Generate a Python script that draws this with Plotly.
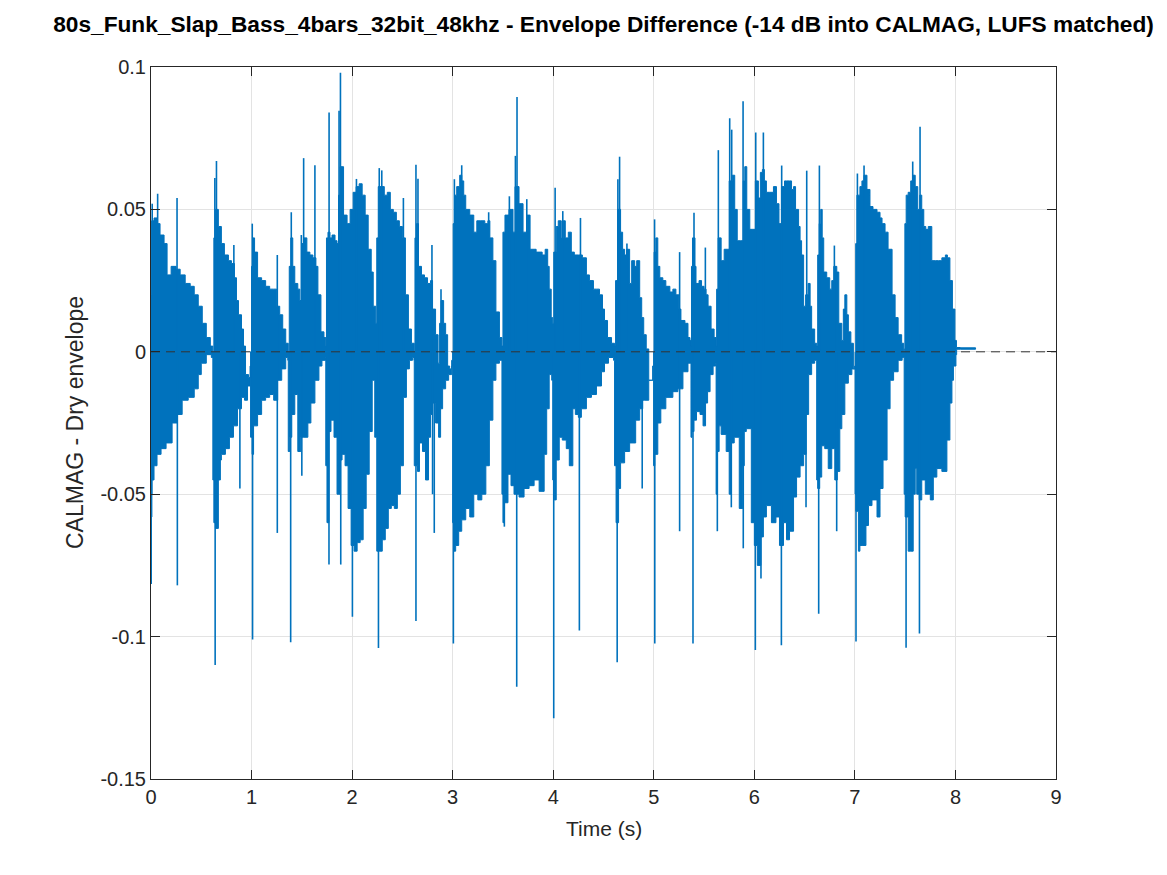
import plotly.graph_objects as go

# ---------------- data ----------------
# Upper envelope of the difference signal (time s, value)
upper_t = [0.0, 0.006, 0.03, 0.06, 0.09, 0.13, 0.16, 0.20, 0.25, 0.29, 0.34, 0.39, 0.43, 0.47, 0.51, 0.55, 0.59,
           0.615, 0.625, 0.64, 0.67, 0.70, 0.73, 0.77, 0.80, 0.83, 0.85, 0.87, 0.90, 0.92, 0.94, 0.97,
           0.99, 1.00, 1.01, 1.03, 1.06, 1.10, 1.14, 1.18, 1.22, 1.25, 1.28, 1.31, 1.34,
           1.365, 1.375, 1.39, 1.41, 1.43, 1.46, 1.48, 1.50, 1.52, 1.55, 1.58, 1.61, 1.64, 1.66, 1.69, 1.72,
           1.738, 1.745, 1.76, 1.78, 1.80, 1.83, 1.85, 1.865, 1.88, 1.90, 1.915, 1.95, 1.98, 2.01, 2.04, 2.07,
           2.10, 2.13, 2.16, 2.19, 2.21, 2.235, 2.245, 2.26, 2.29, 2.32, 2.35, 2.38, 2.41, 2.44, 2.47, 2.50,
           2.53, 2.56, 2.59,
           2.618, 2.625, 2.64, 2.66, 2.69, 2.72, 2.75, 2.78, 2.80, 2.83, 2.855, 2.87, 2.885, 2.91, 2.93, 2.95,
           2.97, 2.99,
           3.0, 3.005, 3.02, 3.04, 3.07, 3.09, 3.11, 3.13, 3.17, 3.21, 3.24, 3.28, 3.32, 3.35, 3.37, 3.40,
           3.43, 3.465,
           3.49, 3.50, 3.52, 3.56, 3.60, 3.62, 3.66, 3.70, 3.74, 3.77, 3.83, 3.89, 3.92, 3.945, 3.96, 3.98,
           3.995, 4.005, 4.03, 4.05, 4.08, 4.10, 4.12, 4.15, 4.18, 4.21, 4.25, 4.29, 4.33, 4.36, 4.40, 4.43,
           4.46, 4.49, 4.51, 4.54, 4.58,
           4.61, 4.62, 4.64, 4.67, 4.69, 4.71, 4.73, 4.76, 4.78, 4.81, 4.83, 4.86, 4.88, 4.90, 4.925, 4.95,
           4.975, 4.99,
           4.998, 5.003, 5.02, 5.04, 5.06, 5.09, 5.12, 5.16, 5.19, 5.22, 5.25, 5.27, 5.31, 5.34, 5.36,
           5.37, 5.375, 5.385, 5.41, 5.42, 5.45, 5.475, 5.50, 5.52, 5.54, 5.57, 5.60,
           5.62, 5.625, 5.64, 5.67, 5.70, 5.73, 5.75, 5.78, 5.805, 5.83, 5.865, 5.89, 5.905, 5.925, 5.955,
           5.985, 6.01, 6.04, 6.06, 6.08, 6.10, 6.12, 6.15, 6.19, 6.22, 6.245, 6.27, 6.30, 6.32, 6.35, 6.37,
           6.39, 6.41, 6.44, 6.455, 6.47, 6.49, 6.51, 6.535, 6.555, 6.57, 6.60,
           6.62, 6.63, 6.645, 6.66, 6.675, 6.69, 6.72, 6.75, 6.77, 6.79, 6.82, 6.84, 6.87, 6.885, 6.90, 6.92,
           6.935, 6.96, 6.985,
           7.002, 7.008, 7.02, 7.05, 7.07, 7.09, 7.12, 7.15, 7.18, 7.22, 7.25, 7.27, 7.30, 7.33, 7.37, 7.40,
           7.43, 7.465, 7.485,
           7.49, 7.497, 7.51, 7.53, 7.555, 7.575, 7.60, 7.625, 7.645, 7.665, 7.685, 7.705, 7.73, 7.765, 7.80,
           7.83, 7.865, 7.90, 7.92, 7.945, 7.97, 7.995, 8.01,
           8.05, 8.20]
upper_v = [0.020, 0.046, 0.047, 0.045, 0.041, 0.038, 0.027, 0.030, 0.029, 0.027, 0.024, 0.023, 0.020, 0.016, 0.010, 0.005, 0.002,
           0.000, 0.040, 0.050, 0.044, 0.038, 0.034, 0.032, 0.031, 0.026, 0.018, 0.013, 0.008, 0.002, -0.008, -0.009,
           0.000, 0.030, 0.040, 0.035, 0.026, 0.025, 0.023, 0.022, 0.022, 0.016, 0.013, 0.008, 0.003,
           0.000, 0.030, 0.040, 0.030, 0.024, 0.022, 0.018, 0.038, 0.040, 0.035, 0.034, 0.033, 0.030, 0.020, 0.007, 0.005,
           0.002, 0.040, 0.042, 0.040, 0.041, 0.039, 0.038, 0.055, 0.065, 0.065, 0.048, 0.045, 0.050, 0.056, 0.058, 0.059,
           0.055, 0.048, 0.036, 0.028, 0.016, 0.010, 0.040, 0.058, 0.058, 0.055, 0.056, 0.050, 0.049, 0.046, 0.044, 0.040,
           0.020, 0.008, 0.003,
           0.000, 0.040, 0.045, 0.030, 0.027, 0.026, 0.024, 0.025, 0.015, 0.006, -0.004, 0.010, 0.018, 0.010, 0.006, -0.005,
           -0.006, -0.003,
           0.000, 0.045, 0.055, 0.058, 0.062, 0.060, 0.055, 0.050, 0.048, 0.042, 0.046, 0.046, 0.045, 0.046, 0.040, 0.032,
           0.014, 0.005,
           0.002, 0.042, 0.048, 0.050, 0.042, 0.058, 0.052, 0.042, 0.048, 0.036, 0.035, 0.034, 0.036, 0.030, 0.022, 0.012,
           0.010, 0.035, 0.044, 0.046, 0.040, 0.046, 0.040, 0.042, 0.035, 0.034, 0.034, 0.033, 0.027, 0.025, 0.022, 0.022,
           0.020, 0.015, 0.011, 0.005, 0.003,
           0.002, 0.025, 0.050, 0.042, 0.036, 0.034, 0.036, 0.024, 0.032, 0.030, 0.032, 0.019, 0.012, 0.006, 0.001, -0.010,
           -0.010, -0.005,
           0.000, 0.035, 0.040, 0.030, 0.026, 0.025, 0.023, 0.021, 0.022, 0.020, 0.015, 0.011, 0.010, 0.005, 0.004,
           0.002, 0.030, 0.040, 0.030, 0.024, 0.025, 0.023, 0.022, 0.020, 0.016, 0.008, 0.005,
           0.002, 0.022, 0.040, 0.032, 0.036, 0.036, 0.060, 0.062, 0.050, 0.039, 0.039, 0.060, 0.065, 0.050, 0.043,
           0.043, 0.060, 0.054, 0.063, 0.064, 0.060, 0.056, 0.056, 0.058, 0.052, 0.045, 0.058, 0.060, 0.060, 0.060, 0.057,
           0.058, 0.050, 0.044, 0.039, 0.034, 0.016, 0.020, 0.024, 0.016, 0.008, 0.003,
           0.002, 0.034, 0.045, 0.050, 0.040, 0.028, 0.026, 0.022, 0.025, 0.030, 0.028, 0.010, 0.004, 0.015, 0.020, 0.013,
           0.007, 0.003, -0.006,
           0.000, 0.038, 0.055, 0.058, 0.060, 0.062, 0.057, 0.051, 0.050, 0.049, 0.047, 0.045, 0.042, 0.036, 0.020, 0.012,
           0.006, 0.003, 0.000,
           0.001, 0.045, 0.055, 0.056, 0.060, 0.062, 0.058, 0.050, 0.055, 0.050, 0.044, 0.043, 0.044, 0.032, 0.032,
           0.032, 0.033, 0.034, 0.033, 0.025, 0.015, 0.004, 0.0015,
           0.0014, 0.0014]

# Lower envelope of the difference signal (time s, value)
lower_t = [0.0, 0.01, 0.03, 0.06, 0.10, 0.15, 0.21, 0.26, 0.31, 0.37, 0.43, 0.47, 0.50, 0.55, 0.60,
           0.615, 0.625, 0.64, 0.67, 0.69, 0.70, 0.74, 0.78, 0.82, 0.86, 0.90, 0.93, 0.96, 0.985,
           0.99, 1.005, 1.02, 1.06, 1.10, 1.14, 1.18, 1.22, 1.26, 1.30, 1.34, 1.36,
           1.365, 1.38, 1.40, 1.43, 1.46, 1.49, 1.52, 1.56, 1.59, 1.63, 1.67, 1.70, 1.735,
           1.738, 1.75, 1.77, 1.79, 1.82, 1.85, 1.88, 1.90, 1.93, 1.96, 1.99, 2.02, 2.05, 2.08, 2.11, 2.14,
           2.17, 2.20, 2.225, 2.245, 2.27, 2.30, 2.33, 2.36, 2.39, 2.42, 2.45, 2.48, 2.51, 2.54, 2.57, 2.60, 2.615,
           2.618, 2.63, 2.65, 2.67, 2.70, 2.73, 2.76, 2.78, 2.80, 2.83, 2.86, 2.88, 2.90, 2.93, 2.96, 2.99,
           3.0, 3.01, 3.03, 3.06, 3.09, 3.13, 3.17, 3.21, 3.25, 3.29, 3.33, 3.365, 3.40, 3.43, 3.465, 3.48,
           3.49, 3.50, 3.515, 3.55, 3.58, 3.61, 3.66, 3.71, 3.76, 3.81, 3.86, 3.91, 3.935, 3.96, 3.985,
           3.995, 4.01, 4.03, 4.06, 4.09, 4.13, 4.16, 4.195, 4.22, 4.25, 4.28, 4.33, 4.38, 4.43, 4.48, 4.51,
           4.55, 4.60,
           4.61, 4.625, 4.65, 4.67, 4.71, 4.76, 4.82, 4.86, 4.89, 4.91, 4.95, 4.99,
           4.998, 5.01, 5.04, 5.07, 5.12, 5.19, 5.24, 5.29, 5.34, 5.36,
           5.37, 5.38, 5.40, 5.425, 5.46, 5.49, 5.515, 5.535, 5.56, 5.59, 5.615,
           5.62, 5.63, 5.65, 5.67, 5.72, 5.75, 5.77, 5.80, 5.85, 5.885, 5.90, 5.92, 5.97, 6.00, 6.03, 6.065,
           6.09, 6.12, 6.17, 6.215, 6.25, 6.29, 6.32, 6.35, 6.39, 6.42, 6.455, 6.49, 6.515, 6.54, 6.57, 6.60,
           6.62, 6.63, 6.65, 6.67, 6.70, 6.735, 6.77, 6.80, 6.825, 6.85, 6.87, 6.90, 6.935, 6.97, 6.998,
           7.002, 7.01, 7.035, 7.05, 7.08, 7.11, 7.135, 7.17, 7.22, 7.25, 7.28, 7.32, 7.35, 7.385, 7.43, 7.47,
           7.485,
           7.49, 7.50, 7.53, 7.555, 7.58, 7.60, 7.615, 7.64, 7.665, 7.70, 7.75, 7.78, 7.815, 7.865, 7.915,
           7.945, 7.965, 7.98, 8.005, 8.012,
           8.05, 8.20]
lower_v = [-0.030, -0.050, -0.045, -0.040, -0.036, -0.034, -0.032, -0.025, -0.022, -0.017, -0.016, -0.013, -0.008, -0.004, -0.001,
           -0.002, -0.045, -0.060, -0.062, -0.045, -0.038, -0.036, -0.034, -0.030, -0.026, -0.020, -0.016, -0.017, -0.012,
           -0.005, -0.030, -0.036, -0.026, -0.022, -0.017, -0.016, -0.015, -0.017, -0.010, -0.006, -0.002,
           -0.003, -0.035, -0.030, -0.022, -0.015, -0.035, -0.030, -0.030, -0.025, -0.018, -0.010, -0.005, -0.003,
           -0.002, -0.040, -0.060, -0.028, -0.024, -0.030, -0.050, -0.038, -0.036, -0.040, -0.055, -0.068, -0.070, -0.067, -0.066, -0.055,
           -0.043, -0.028, -0.010, -0.030, -0.070, -0.070, -0.066, -0.062, -0.055, -0.054, -0.055, -0.050, -0.040, -0.016, -0.006, -0.003, -0.002,
           -0.003, -0.040, -0.040, -0.042, -0.032, -0.035, -0.045, -0.030, -0.022, -0.018, -0.025, -0.030, -0.020, -0.013, -0.010, -0.008,
           -0.005, -0.060, -0.070, -0.068, -0.063, -0.059, -0.055, -0.058, -0.050, -0.052, -0.050, -0.040, -0.024, -0.010, -0.004, -0.003,
           -0.003, -0.050, -0.060, -0.053, -0.043, -0.047, -0.050, -0.051, -0.048, -0.047, -0.045, -0.049, -0.036, -0.020, -0.008,
           -0.010, -0.045, -0.052, -0.038, -0.030, -0.031, -0.034, -0.040, -0.020, -0.022, -0.023, -0.020, -0.016, -0.015, -0.012, -0.007,
           -0.004, -0.002,
           -0.003, -0.040, -0.060, -0.048, -0.039, -0.035, -0.032, -0.024, -0.020, -0.017, -0.017, -0.010,
           -0.005, -0.040, -0.036, -0.025, -0.020, -0.016, -0.014, -0.013, -0.007, -0.004,
           -0.004, -0.030, -0.028, -0.024, -0.021, -0.022, -0.026, -0.018, -0.014, -0.008, -0.005,
           -0.004, -0.050, -0.035, -0.026, -0.029, -0.035, -0.050, -0.032, -0.030, -0.055, -0.040, -0.028, -0.027, -0.060, -0.068, -0.075,
           -0.065, -0.058, -0.054, -0.060, -0.058, -0.068, -0.060, -0.066, -0.063, -0.051, -0.044, -0.040, -0.036, -0.022, -0.008, -0.004,
           -0.003, -0.045, -0.048, -0.044, -0.033, -0.034, -0.041, -0.034, -0.045, -0.042, -0.027, -0.022, -0.011, -0.008, -0.006,
           -0.005, -0.050, -0.056, -0.070, -0.068, -0.068, -0.061, -0.054, -0.052, -0.058, -0.048, -0.038, -0.020, -0.010, -0.007, -0.003,
           -0.002,
           -0.002, -0.050, -0.058, -0.070, -0.070, -0.050, -0.041, -0.050, -0.052, -0.045, -0.050, -0.052, -0.044, -0.041, -0.042,
           -0.031, -0.018, -0.010, -0.005, -0.001,
           0.0009, 0.0009]

# Individual tall transient spikes (time s, peak value)
spike_t = [0.002, 0.006, 0.012, 0.066, 0.259, 0.262,
           0.635, 0.638, 0.651, 0.824, 0.884,
           1.007, 1.010, 1.256, 1.256,
           1.389, 1.395, 1.495, 1.500, 1.518, 1.630,
           1.770, 1.771, 1.870, 1.884, 1.887, 2.003, 2.043, 2.262, 2.270, 2.295, 2.510,
           2.635, 2.635, 2.655, 2.794, 2.800, 2.817, 2.884,
           3.007, 3.017, 3.090, 3.358,
           3.514, 3.564, 3.624, 3.637, 3.640, 3.737,
           4.005, 4.019, 4.095, 4.260, 4.271,
           4.636, 4.643, 4.660, 4.733, 4.885,
           5.008, 5.010, 5.257, 5.257,
           5.390, 5.400, 5.513,
           5.632, 5.642, 5.755, 5.771, 5.775, 5.888, 5.890, 6.010, 6.014, 6.066, 6.090, 6.269, 6.272, 6.514, 6.521,
           6.640, 6.647, 6.796, 6.819,
           7.011, 7.025, 7.091,
           7.509, 7.575, 7.642, 7.648]
spike_v = [-0.0815, -0.058, 0.052, 0.0555, 0.054, -0.082,
           0.061, -0.110, 0.067, 0.0375, -0.048,
           0.045, -0.101, 0.034, -0.0636,
           -0.102, 0.049, 0.041, -0.0435, 0.068, 0.0655,
           -0.0747, 0.084, 0.0846, 0.098, -0.0747, -0.093, 0.0607, -0.104, 0.0645, 0.0637, 0.054,
           0.0657, -0.0945, 0.0608, 0.0375, -0.050, -0.0636, 0.022,
           -0.1024, 0.0606, 0.0655, 0.049,
           -0.0614, 0.0546, 0.0688, -0.1176, 0.0895, 0.0536,
           -0.1287, 0.0576, 0.0494, -0.0979, 0.047,
           -0.109, 0.0606, 0.0685, 0.038, -0.048,
           0.0465, -0.1024, 0.035, -0.063,
           -0.1024, 0.0488, 0.0366,
           -0.063, 0.0708, 0.082, -0.0546, 0.078, 0.088, -0.069, -0.1047, 0.077, -0.0796, 0.077, -0.103, 0.0654, -0.0546, 0.0636,
           -0.092, 0.0654, 0.0373, -0.063,
           -0.1017, 0.0626, 0.0654,
           -0.1039, 0.0668, -0.0989, 0.079]

x_ticks = [0, 1, 2, 3, 4, 5, 6, 7, 8, 9]
y_ticks = [-0.15, -0.1, -0.05, 0, 0.05, 0.1]
y_tick_text = ["-0.15", "-0.1", "-0.05", "0", "0.05", "0.1"]
x_range = [0, 9]
y_range = [-0.15, 0.1]

title_text = "80s_Funk_Slap_Bass_4bars_32bit_48khz - Envelope Difference (-14 dB into CALMAG, LUFS matched)"
x_label = "Time (s)"
y_label = "CALMAG - Dry envelope"

# ---------------- figure ----------------
BLUE = "#0072BD"
AX = "#262626"
FONT = "Liberation Sans"

fig = go.Figure()

# dense envelope body as filled polygon (stepped edges like the sampled trace)
poly_x = upper_t + lower_t[::-1]
poly_y = upper_v + lower_v[::-1]
fig.add_trace(go.Scatter(x=poly_x, y=poly_y, mode="lines", fill="toself",
                         fillcolor=BLUE, line=dict(color=BLUE, width=1, shape="hv"),
                         hoverinfo="skip"))

# spikes
sx, sy = [], []
for t, v in zip(spike_t, spike_v):
    sx += [t, t, None]
    sy += [0, v, None]
fig.add_trace(go.Scatter(x=sx, y=sy, mode="lines", line=dict(color=BLUE, width=1.6),
                         hoverinfo="skip"))

# zero reference line
fig.add_trace(go.Scatter(x=x_range, y=[0, 0], mode="lines",
                         line=dict(color="#333333", width=1, dash="9px,6px"),
                         hoverinfo="skip"))

axis_common = dict(showline=True, linecolor=AX, linewidth=1, mirror="ticks",
                   ticks="inside", ticklen=9, tickcolor=AX, tickwidth=1,
                   showgrid=True, gridcolor="#e3e3e3", gridwidth=1, zeroline=False,
                   tickfont=dict(family=FONT, size=20, color=AX))

fig.update_layout(
    width=1167, height=875,
    margin=dict(l=151, r=111, t=67, b=96),
    paper_bgcolor="white", plot_bgcolor="white",
    showlegend=False,
    title=dict(text="<b>" + title_text + "</b>", x=0.5, xref="paper", xanchor="center",
               y=1 - 24 / 875, yref="container", yanchor="middle",
               font=dict(family=FONT, size=22.7, color="black")),
    xaxis=dict(range=x_range, tickvals=x_ticks, **axis_common),
    yaxis=dict(range=y_range, tickvals=y_ticks, ticktext=y_tick_text, **axis_common),
    annotations=[
        dict(text=x_label, x=0.5, y=-49 / 712, xref="paper", yref="paper",
             xanchor="center", yanchor="middle", showarrow=False,
             font=dict(family=FONT, size=21, color=AX)),
        dict(text=y_label, x=-76 / 905, y=0.5, xref="paper", yref="paper",
             xanchor="center", yanchor="middle", showarrow=False, textangle=-90,
             font=dict(family=FONT, size=23, color=AX)),
    ],
)

fig.write_html("out.html")
